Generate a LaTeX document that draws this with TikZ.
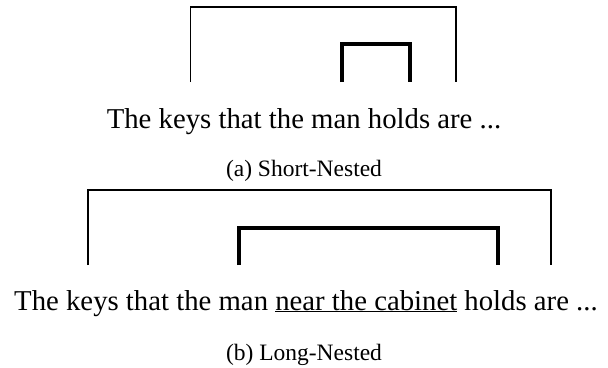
\documentclass[tikz,border=0pt]{standalone}
\usepackage{fontspec}
\setmainfont{Liberation Serif}
\begin{document}
\begin{tikzpicture}[x=1pt,y=-1pt,
  thinbr/.style={line width=1.8pt},
  thickbr/.style={line width=3.6pt},
  sent/.style={inner sep=0pt,anchor=base,font=\fontsize{28.75}{32}\selectfont},
  captxt/.style={inner sep=0pt,anchor=base,font=\fontsize{23.5}{27}\selectfont}]
\useasboundingbox (0,0) rectangle (608,367);
% (a)
\coordinate (a1) at (190.5,82); \coordinate (a2) at (456,82);
\coordinate (a3) at (342,82); \coordinate (a4) at (410,82);
\draw[thinbr] (a1) -- ++(0,-75) -| (a2);
\draw[thickbr] (a3) -- ++(0,-38) -| (a4);
\node[sent] (sa) at (304,128) {The keys that the man holds are ...};
\node[captxt] (ca) at (304,176) {(a) Short-Nested};
% (b)
\coordinate (b1) at (88,265); \coordinate (b2) at (551,265);
\coordinate (b3) at (239,265); \coordinate (b4) at (498,265);
\draw[thinbr] (b1) -- ++(0,-75) -| (b2);
\draw[thickbr] (b3) -- ++(0,-37) -| (b4);
\node[sent] (sb) at (306,310) {The keys that the man \underline{near the cabinet} holds are ...};
\node[captxt] (cb) at (304,360) {(b) Long-Nested};
\end{tikzpicture}
\end{document}
